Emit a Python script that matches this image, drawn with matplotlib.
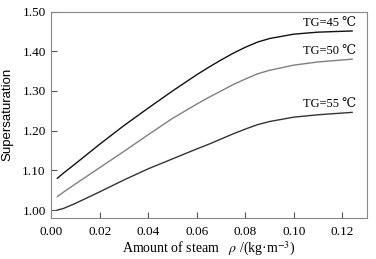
import matplotlib
matplotlib.use('Agg')
import matplotlib.pyplot as plt
from matplotlib.ticker import FormatStrFormatter

plt.rcParams['font.family'] = ['Liberation Serif', 'DejaVu Serif']
plt.rcParams['mathtext.fontset'] = 'stix'

rho = [0.0025, 0.005, 0.01, 0.02, 0.03, 0.04, 0.05, 0.06, 0.065, 0.07, 0.075, 0.08, 0.085, 0.09, 0.10, 0.11, 0.124]
tg45 = [1.080, 1.093, 1.117, 1.166, 1.213, 1.257, 1.300, 1.341, 1.360, 1.378, 1.395, 1.410, 1.423, 1.432, 1.443, 1.448, 1.451]
tg50 = [1.034, 1.045, 1.066, 1.107, 1.148, 1.190, 1.231, 1.267, 1.284, 1.300, 1.316, 1.330, 1.343, 1.352, 1.365, 1.373, 1.380]
tg55 = [1.000, 1.004, 1.017, 1.046, 1.076, 1.104, 1.129, 1.154, 1.166, 1.179, 1.192, 1.204, 1.215, 1.223, 1.234, 1.240, 1.246]
labels = ['TG=45 ℃', 'TG=50 ℃', 'TG=55 ℃']

fig = plt.figure(figsize=(3.76, 2.59), dpi=100)
ax = fig.add_axes([51.3/376, 1 - 218/259, (366.7 - 51.3)/376, (218 - 11.5)/259])

ax.plot(rho, tg45, color='#111111', lw=1.0)
ax.plot(rho, tg50, color='#808080', lw=1.0)
ax.plot(rho, tg55, color='#333333', lw=1.0)

for yv, lab in zip([tg45[-1], tg50[-1], tg55[-1]], labels):
    ax.text(0.1255, yv + 0.005, lab, ha='right', va='bottom', fontsize=9)

ax.set_xlim(0, 0.13)
ax.set_ylim(0.98, 1.50)
ax.set_xticks([0.00, 0.02, 0.04, 0.06, 0.08, 0.10, 0.12])
ax.set_yticks([1.00, 1.10, 1.20, 1.30, 1.40, 1.50])
ax.xaxis.set_major_formatter(FormatStrFormatter('%.2f'))
ax.yaxis.set_major_formatter(FormatStrFormatter('%.2f'))
ax.tick_params(direction='in', length=4, width=0.8, color='#555555', labelsize=9.5)
ax.tick_params(axis='x', pad=6)
ax.tick_params(axis='y', pad=4)
for s in ax.spines.values():
    s.set_color('#888888')
    s.set_linewidth(0.8)

ax.set_xlabel('Amount of steam   $\\rho$ /(kg·m$^{-3}$)', fontsize=10, labelpad=1)
ax.set_ylabel('Supersaturation', fontsize=9.5, family=['Liberation Sans', 'DejaVu Sans'], labelpad=6)

fig.savefig('out.png', dpi=100)
